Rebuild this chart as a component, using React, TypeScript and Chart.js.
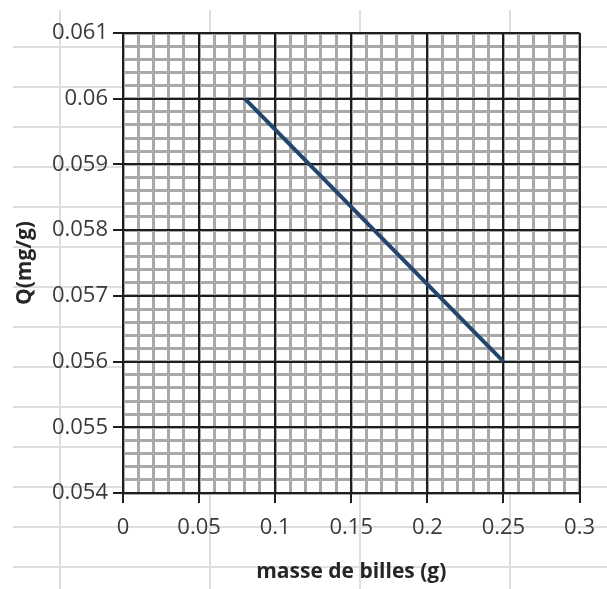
import React, { useEffect, useRef } from 'react';
import { Chart, registerables } from 'chart.js';

Chart.register(...registerables);

// ---- data ----
const masses = [0.08, 0.25];
const qValues = [0.06, 0.056];

// ---- axes ----
const xMin = 0;
const xMax = 0.3;
const xMajorStep = 0.05;
const xMinorStep = 0.01;
const yMin = 0.054;
const yMax = 0.061;
const yMajorStep = 0.001;
const yMinorStep = 0.0002;
const xTitle = 'masse de billes (g)';
const yTitle = 'Q(mg/g)';

const W = 607;
const H = 589;

const fmt = (v: number) => String(Number(v.toFixed(6)));

const plotBg = {
  id: 'plotBg',
  beforeDraw(chart: any) {
    const { ctx, chartArea } = chart;
    if (!chartArea) return;
    ctx.save();
    ctx.fillStyle = 'rgba(255,255,255,0.9)';
    ctx.fillRect(chartArea.left, chartArea.top, chartArea.right - chartArea.left, chartArea.bottom - chartArea.top);
    ctx.restore();
  },
};

export default function App() {
  const ref = useRef<HTMLCanvasElement>(null);

  useEffect(() => {
    document.body.style.margin = '0';
    const labelFont = { family: "'Open Sans', sans-serif", size: 22 };
    const titleFont = { family: "'Open Sans', sans-serif", size: 21, weight: 'bold' as const };
    const chart = new Chart(ref.current as HTMLCanvasElement, {
      type: 'line',
      data: {
        datasets: [
          {
            data: masses.map((m, i) => ({ x: m, y: qValues[i] })),
            borderColor: '#23466f',
            borderWidth: 4,
            pointRadius: 0,
            fill: false,
            tension: 0,
          },
        ],
      },
      options: {
        responsive: false,
        animation: false,
        devicePixelRatio: 1,
        layout: { padding: { top: 33, right: 26, left: 11, bottom: 0 } },
        plugins: { legend: { display: false }, tooltip: { enabled: false } },
        scales: {
          xm: {
            type: 'linear',
            position: 'bottom',
            min: xMin,
            max: xMax,
            ticks: { display: false, stepSize: xMinorStep, autoSkip: false },
            grid: { color: '#a9a9a9', lineWidth: 3, drawTicks: false, z: -2 },
            border: { display: false },
            afterFit: (s: any) => { s.height = 0; },
          },
          ym: {
            type: 'linear',
            position: 'left',
            min: yMin,
            max: yMax,
            ticks: { display: false, stepSize: yMinorStep, autoSkip: false },
            grid: { color: '#a9a9a9', lineWidth: 3, drawTicks: false, z: -2 },
            border: { display: false },
            afterFit: (s: any) => { s.width = 0; },
          },
          x: {
            type: 'linear',
            position: 'bottom',
            min: xMin,
            max: xMax,
            ticks: {
              stepSize: xMajorStep,
              autoSkip: false,
              maxRotation: 0,
              padding: 12,
              color: '#3a3a3a',
              font: labelFont,
              callback: (v: any) => fmt(Number(v)),
            },
            grid: { color: '#1e1e1e', lineWidth: 2, tickLength: 10, tickColor: '#1e1e1e', tickWidth: 2, z: -1 },
            border: { display: true, color: '#1e1e1e', width: 2 },
            title: { display: true, text: xTitle, color: '#262626', font: titleFont, padding: { top: 0, bottom: 4 } },
            afterFit: (s: any) => { s.height = 96; },
          },
          y: {
            type: 'linear',
            position: 'left',
            min: yMin,
            max: yMax,
            ticks: {
              stepSize: yMajorStep,
              autoSkip: false,
              padding: 5,
              color: '#3a3a3a',
              font: labelFont,
              callback: (v: any) => fmt(Number(v)),
            },
            grid: { color: '#1e1e1e', lineWidth: 2, tickLength: 10, tickColor: '#1e1e1e', tickWidth: 2, z: -1 },
            border: { display: true, color: '#1e1e1e', width: 2 },
            title: { display: true, text: yTitle, color: '#262626', font: titleFont, padding: { top: 1, bottom: 0 } },
            afterFit: (s: any) => { s.width = 112; },
          },
        },
      },
      plugins: [plotBg],
    });
    return () => chart.destroy();
  }, []);

  const hLines: number[] = [];
  for (let y = 47; y < H; y += 40) hLines.push(y);
  const vLines: number[] = [];
  for (let x = 60; x < W; x += 150) vLines.push(x);

  return (
    <div style={{ position: 'relative', width: W, height: H, background: '#ffffff', overflow: 'hidden' }}>
      {hLines.map((y) => (
        <div key={'h' + y} style={{ position: 'absolute', left: 13, right: 0, top: y - 1, height: 2, background: '#dedede' }} />
      ))}
      {vLines.map((x) => (
        <div key={'v' + x} style={{ position: 'absolute', top: 10, bottom: 0, left: x - 1, width: 2, background: '#dedede' }} />
      ))}
      <canvas ref={ref} width={W} height={H} style={{ position: 'absolute', left: 0, top: 0, width: W, height: H }} />
    </div>
  );
}
